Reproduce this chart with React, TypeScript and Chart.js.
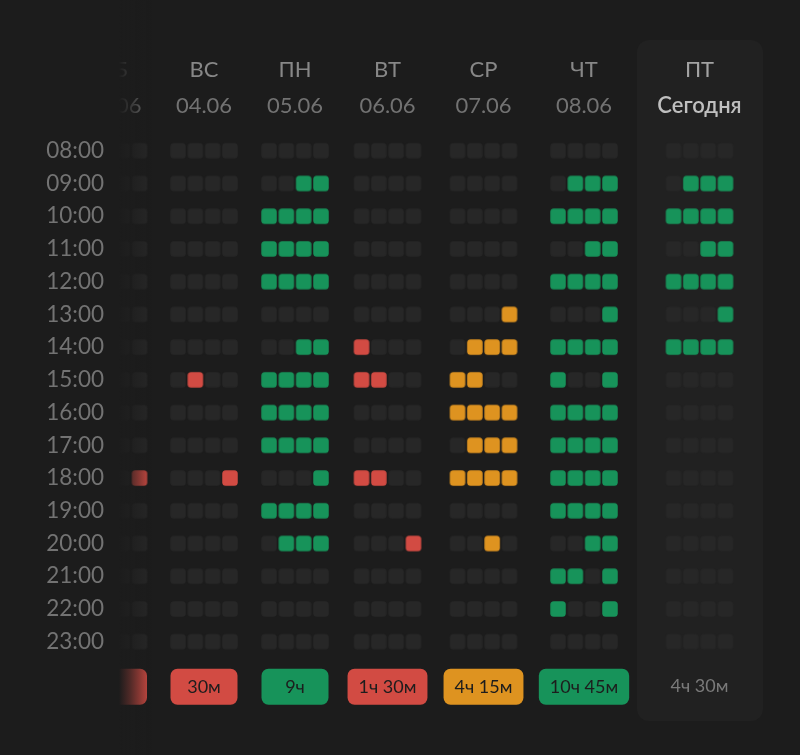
import React, { useEffect, useRef } from 'react';
import { Chart, registerables } from 'chart.js';

Chart.register(...registerables);
Chart.defaults.font.family = "Lato, 'DejaVu Sans', sans-serif";

// ---------- data ----------
const DAYS = ['СБ', 'ВС', 'ПН', 'ВТ', 'СР', 'ЧТ', 'ПТ'];
const DATES = ['03.06', '04.06', '05.06', '06.06', '07.06', '08.06', 'Сегодня'];
const HOURS = [8, 9, 10, 11, 12, 13, 14, 15, 16, 17, 18, 19, 20, 21, 22, 23];
const TOTALS = ['15м', '30м', '9ч', '1ч 30м', '4ч 15м', '10ч 45м', '4ч 30м'];
const TOTAL_STATUS = ['r', 'r', 'g', 'r', 'o', 'g', '.'];

// one string per hour (08:00 … 23:00), four 15-minute slots: . empty, g green, r red, o orange
const SAT = ['....', '....', '....', '....', '....', '....', '....', '....', '....', '....', '...r', '....', '....', '....', '....', '....'];
const SUN = ['....', '....', '....', '....', '....', '....', '....', '.r..', '....', '....', '...r', '....', '....', '....', '....', '....'];
const MON = ['....', '..gg', 'gggg', 'gggg', 'gggg', '....', '..gg', 'gggg', 'gggg', 'gggg', '...g', 'gggg', '.ggg', '....', '....', '....'];
const TUE = ['....', '....', '....', '....', '....', '....', 'r...', 'rr..', '....', '....', 'rr..', '....', '...r', '....', '....', '....'];
const WED = ['....', '....', '....', '....', '....', '...o', '.ooo', 'oo..', 'oooo', '.ooo', 'oooo', '....', '..o.', '....', '....', '....'];
const THU = ['....', '.ggg', 'gggg', '..gg', 'gggg', '...g', 'gggg', 'g..g', 'gggg', 'gggg', 'gggg', 'gggg', '..gg', 'gg.g', 'g..g', '....'];
const FRI = ['....', '.ggg', 'gggg', '..gg', 'gggg', '...g', 'gggg', '....', '....', '....', '....', '....', '....', '....', '....', '....'];
const WEEK = [SAT, SUN, MON, TUE, WED, THU, FRI];

// ---------- layout / style ----------
const BG = '#1c1c1c';
const COLORS: Record<string, string> = { '.': '#272727', g: '#17935a', r: '#d24b43', o: '#de9320' };
const COL_X = [113.5, 204, 295, 387.5, 483.5, 584, 699.5]; // column centres (x scale units = px)
const SLOT_STEP = 17.3;
const TOTAL_ROW = 24.375; // y value of the totals row
const TODAY = 6;

function sprite(fill: string, blur: boolean) {
  const c = document.createElement('canvas');
  c.width = 20;
  c.height = 20;
  const g = c.getContext('2d')!;
  if (blur) g.filter = 'blur(0.7px)';
  g.fillStyle = fill;
  g.beginPath();
  (g as any).roundRect(2.25, 2.25, 15.5, 15.5, 3.5);
  g.fill();
  return c;
}

function buildPoints(code: string) {
  const pts: { x: number; y: number }[] = [];
  WEEK.forEach((day, d) => {
    day.forEach((row, h) => {
      for (let s = 0; s < 4; s++) {
        if (row[s] === code) pts.push({ x: COL_X[d] + (s - 1.5) * SLOT_STEP, y: HOURS[h] });
      }
    });
  });
  return pts;
}

const decor = {
  id: 'decor',
  beforeDraw(chart: any) {
    const { ctx } = chart;
    ctx.save();
    ctx.fillStyle = '#212121';
    ctx.beginPath();
    ctx.roundRect(637, 40, 126, 681, 12);
    ctx.fill();
    ctx.restore();
  },
  afterDatasetsDraw(chart: any) {
    const { ctx, scales } = chart;
    const xs = scales.x;
    const ys = scales.y;
    const by = ys.getPixelForValue(TOTAL_ROW);
    ctx.save();
    ctx.font = "18px Lato, 'DejaVu Sans', sans-serif";
    ctx.textAlign = 'center';
    ctx.textBaseline = 'middle';
    TOTALS.forEach((t, i) => {
      const cx = xs.getPixelForValue(COL_X[i]);
      const st = TOTAL_STATUS[i];
      if (st === '.') {
        ctx.fillStyle = '#7a7a7a';
        ctx.fillText(t, cx, by);
        return;
      }
      const w = Math.max(67, ctx.measureText(t).width + 22);
      ctx.fillStyle = COLORS[st];
      ctx.beginPath();
      ctx.roundRect(cx - w / 2, by - 18, w, 36, 7);
      ctx.fill();
      if (i > 0) {
        ctx.fillStyle = '#1d1d1d';
        ctx.fillText(t, cx, by + 1);
      }
    });
    // left fade of the scrolled-out column
    const H = chart.height;
    ctx.fillStyle = BG;
    ctx.fillRect(0, 0, 119, H);
    const g = ctx.createLinearGradient(119, 0, 152, 0);
    g.addColorStop(0, 'rgba(28,28,28,1)');
    g.addColorStop(0.35, 'rgba(28,28,28,0.7)');
    g.addColorStop(1, 'rgba(28,28,28,0)');
    ctx.fillStyle = g;
    ctx.fillRect(119, 0, 33, H);
    ctx.restore();
  },
};

const topAxis = (labels: string[], weight: number, height: number, normal: string, today: string, todayWeight: string) => ({
  type: 'linear',
  position: 'top',
  min: 118,
  max: 800,
  weight,
  grid: { display: false, drawTicks: false },
  border: { display: false },
  afterBuildTicks: (s: any) => {
    s.ticks = COL_X.map((v) => ({ value: v }));
  },
  afterFit: (s: any) => {
    s.height = height;
    s.paddingLeft = 0;
    s.paddingRight = 0;
  },
  ticks: {
    autoSkip: false,
    maxRotation: 0,
    padding: -1,
    z: 0,
    callback: (_v: any, i: number) => labels[i],
    color: (c: any) => (c.index === TODAY ? today : normal),
    font: (c: any) => (c.index === TODAY ? { size: 22, weight: todayWeight } : { size: 22, weight: 'normal' }),
  },
});

export default function App() {
  const ref = useRef<HTMLCanvasElement>(null);
  useEffect(() => {
    const blurred = sprite(COLORS['.'], true);
    const mk = (code: string) => ({
      data: buildPoints(code),
      pointStyle: code === '.' ? blurred : sprite(COLORS[code], false),
      pointRadius: 8,
      pointHoverRadius: 8,
      pointBorderWidth: 0,
      showLine: false,
    });
    const chart = new Chart(ref.current!, {
      type: 'scatter',
      data: { datasets: [mk('.'), mk('g'), mk('r'), mk('o')] as any },
      options: {
        animation: false,
        responsive: false,
        events: [],
        layout: { autoPadding: false, padding: { top: 0, left: 0, right: 0, bottom: 31.5 } },
        plugins: { legend: { display: false }, tooltip: { enabled: false } },
        scales: {
          x: topAxis(DATES, 0, 36, '#727272', '#bfbfbf', '600') as any,
          x2: topAxis(DAYS, 1, 82, '#878787', '#a3a3a3', 'normal') as any,
          y: {
            type: 'linear',
            reverse: true,
            min: 7,
            max: 25.5,
            position: 'left',
            grid: { display: false, drawTicks: false },
            border: { display: false },
            afterBuildTicks: (s: any) => {
              s.ticks = HOURS.map((h) => ({ value: h }));
            },
            afterFit: (s: any) => {
              s.width = 118;
              s.paddingTop = 0;
              s.paddingBottom = 0;
            },
            ticks: {
              z: 1,
              padding: 14,
              autoSkip: false,
              color: '#737373',
              font: { size: 22.5 },
              callback: (v: any) => `${String(v).padStart(2, '0')}:00`,
            },
          },
        },
      },
      plugins: [decor],
    });
    return () => chart.destroy();
  }, []);
  return (
    <div style={{ position: 'fixed', left: 0, top: 0, width: 800, height: 755, background: BG }}>
      <canvas ref={ref} width={800} height={755} style={{ display: 'block', width: 800, height: 755 }} />
    </div>
  );
}
